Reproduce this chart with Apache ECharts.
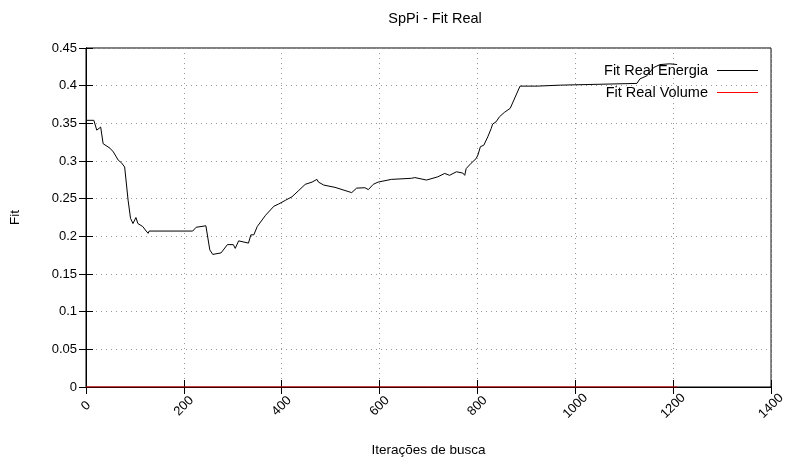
<!DOCTYPE html>
<html>
<head>
<meta charset="utf-8">
<script src="https://cdn.jsdelivr.net/npm/echarts@6/dist/echarts.min.js"></script>
<style>
html,body{margin:0;padding:0;background:#fff;}
#chart{width:788px;height:462px;}
</style>
</head>
<body>
<div id="chart"></div>
<script>
var titleText = 'SpPi - Fit Real';
var xAxisName = 'Iterações de busca';
var yAxisName = 'Fit';
var seriesNames = ['Fit Real Energia', 'Fit Real Volume'];

var energiaX = [0, 16, 22, 25, 30, 35, 49, 56, 66, 72, 79, 86, 91, 96, 102, 106, 116, 123, 127, 129, 218, 225, 245, 253, 259, 276, 289, 301, 305, 312, 332, 337, 343, 350, 367, 384, 394, 408, 421, 435, 448, 462, 472, 475, 486, 509, 543, 553, 570, 577, 587, 597, 624, 665, 672, 696, 719, 733, 743, 757, 770, 774, 777, 787, 797, 801, 806, 813, 821, 828, 831, 838, 845, 855, 867, 887, 922, 970, 973, 1126, 1132, 1146, 1160, 1173, 1193, 1208];
var energiaY = [0.354, 0.354, 0.341, 0.339, 0.345, 0.323, 0.317, 0.312, 0.301, 0.298, 0.292, 0.248, 0.224, 0.217, 0.225, 0.217, 0.213, 0.207, 0.204, 0.207, 0.207, 0.212, 0.214, 0.182, 0.176, 0.178, 0.189, 0.189, 0.184, 0.194, 0.191, 0.202, 0.202, 0.213, 0.228, 0.240, 0.243, 0.248, 0.2525, 0.261, 0.269, 0.272, 0.2756, 0.272, 0.268, 0.265, 0.258, 0.264, 0.2645, 0.262, 0.269, 0.272, 0.2756, 0.277, 0.278, 0.2747, 0.279, 0.2835, 0.281, 0.2857, 0.284, 0.281, 0.290, 0.297, 0.303, 0.308, 0.319, 0.321, 0.332, 0.343, 0.349, 0.352, 0.3587, 0.3645, 0.370, 0.3994, 0.3994, 0.4007, 0.402, 0.403, 0.409, 0.413, 0.424, 0.428, 0.429, 0.428];

var volumeX = [0, 1208];
var volumeY = [0, 0];

var xMin = 0, xMax = 1400, xStep = 200;
var yMin = 0, yMax = 0.45, yStep = 0.05;

function pairs(xs, ys) {
  var out = [];
  for (var i = 0; i < xs.length; i++) out.push([xs[i], ys[i]]);
  return out;
}

var font = 'Liberation Sans';
var chart = echarts.init(document.getElementById('chart'), null, {renderer: 'canvas'});
var axisLineStyle = {color: '#000', width: 1};
var legendIcon = 'path://M0,4.5 L41,4.5 L41,5.5 L0,5.5 Z';
chart.setOption({
  animation: false,
  backgroundColor: '#fff',
  textStyle: {fontFamily: font},
  title: {
    text: titleText,
    left: 430, textAlign: 'center', top: 6,
    textStyle: {fontSize: 14.5, fontWeight: 'normal', color: '#000', fontFamily: font}
  },
  grid: {left: 86, right: 13, top: 48, bottom: 75, show: true, borderColor: '#000', borderWidth: 1, containLabel: false},
  legend: [
    {data: [seriesNames[0]], right: 25, top: 58, align: 'right', itemWidth: 41, itemHeight: 10, itemGap: 0,
     icon: legendIcon, textStyle: {fontSize: 14.5, color: '#000', fontFamily: font, padding: [0, 4, 0, 0]}},
    {data: [seriesNames[1]], right: 25, top: 80, align: 'right', itemWidth: 41, itemHeight: 10, itemGap: 0,
     icon: legendIcon, textStyle: {fontSize: 14.5, color: '#000', fontFamily: font, padding: [0, 4, 0, 0]}}
  ],
  xAxis: [{
    type: 'value', min: xMin, max: xMax, interval: xStep, position: 'bottom',
    name: xAxisName, nameLocation: 'middle', nameGap: 56,
    nameTextStyle: {fontSize: 13.5, color: '#000', fontFamily: font},
    axisLine: {show: true, lineStyle: axisLineStyle},
    axisTick: {show: true, inside: true, length: 7, lineStyle: axisLineStyle},
    axisLabel: {rotate: 45, fontSize: 13, color: '#000', margin: 19, fontFamily: font,
      align: 'center', verticalAlign: 'middle',
      formatter: function (v) { return String(v); }},
    splitLine: {show: true, lineStyle: {color: '#999', type: [1, 4], width: 1}}
  }, {
    type: 'value', min: xMin, max: xMax, interval: xStep, position: 'top',
    axisLine: {show: true, lineStyle: axisLineStyle},
    axisTick: {show: true, inside: true, length: 7, lineStyle: axisLineStyle},
    axisLabel: {show: false}, splitLine: {show: false}
  }],
  yAxis: [{
    type: 'value', min: yMin, max: yMax, interval: yStep, position: 'left',
    name: yAxisName, nameLocation: 'middle', nameGap: 64, nameRotate: 90,
    nameTextStyle: {fontSize: 13.5, color: '#000', fontFamily: font},
    axisLine: {show: true, lineStyle: axisLineStyle},
    axisTick: {show: true, inside: true, length: 7, lineStyle: axisLineStyle},
    axisLabel: {fontSize: 13, color: '#000', margin: 9, fontFamily: font,
      formatter: function (v) { return String(parseFloat(v.toFixed(2))); }},
    splitLine: {show: true, lineStyle: {color: '#999', type: [1, 4], width: 1}}
  }, {
    type: 'value', min: yMin, max: yMax, interval: yStep, position: 'right',
    axisLine: {show: true, lineStyle: axisLineStyle},
    axisTick: {show: true, inside: true, length: 7, lineStyle: axisLineStyle},
    axisLabel: {show: false}, splitLine: {show: false}
  }],
  series: [
    {name: seriesNames[0], type: 'line', data: pairs(energiaX, energiaY), showSymbol: false, symbol: 'none',
     lineStyle: {color: '#000', width: 1}, itemStyle: {color: '#000'}, z: 3},
    {name: seriesNames[1], type: 'line', data: pairs(volumeX, volumeY), showSymbol: false, symbol: 'none',
     lineStyle: {color: '#ff0000', width: 1}, itemStyle: {color: '#ff0000'}, z: 4}
  ]
});
</script>
</body>
</html>
